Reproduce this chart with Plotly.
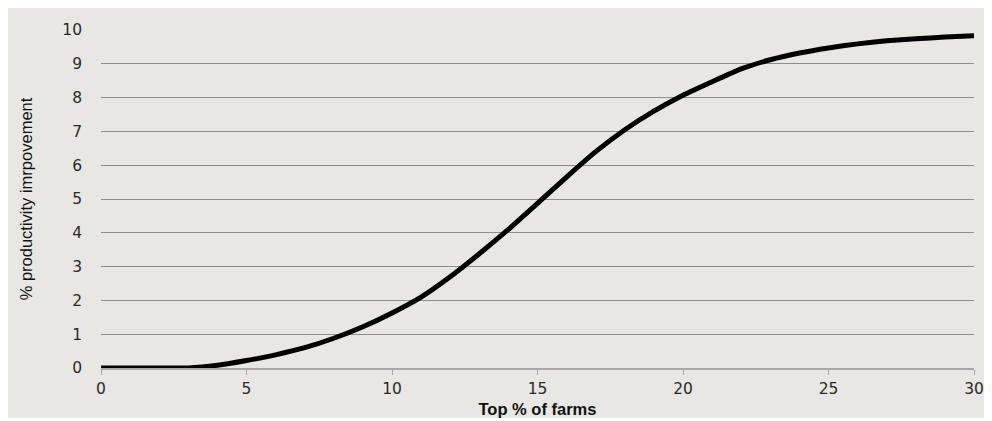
import plotly.graph_objects as go

top_pct_farms = list(range(0, 31))
productivity_improvement = [
    0.0, 0.0, 0.0, 0.0, 0.08, 0.22, 0.39, 0.6, 0.88, 1.22,
    1.63, 2.1, 2.7, 3.38, 4.1, 4.87, 5.65, 6.4, 7.05, 7.6,
    8.07, 8.47, 8.85, 9.12, 9.32, 9.47, 9.59, 9.68, 9.74, 9.79, 9.83,
]
x_ticks = [0, 5, 10, 15, 20, 25, 30]
y_ticks = list(range(0, 11))

# page has an 8px body margin; figure placed at (8, 8)
W, H = 984, 410
L, R, T, B = 93, 18, 22, 50

fig = go.Figure()
fig.add_trace(go.Scatter(
    x=top_pct_farms, y=productivity_improvement, mode="lines",
    line=dict(color="#000000", width=5, shape="spline", smoothing=0.5),
    cliponaxis=False, hoverinfo="x+y", showlegend=False,
))

bg = "#e8e7e3"
tick_font = dict(family="DejaVu Sans, Liberation Sans, Arial", size=15.5, color="#2a2a2a")
fig.update_layout(
    width=W, height=H,
    margin=dict(l=L, r=R, t=T, b=B, autoexpand=False),
    paper_bgcolor=bg, plot_bgcolor=bg,
    xaxis=dict(
        range=[0, 30], tickvals=x_ticks, showgrid=False, zeroline=False,
        showline=True, linecolor="#a8a8a8", linewidth=1.5,
        ticks="outside", ticklen=5, tickcolor="#a8a8a8", tickwidth=1,
        tickfont=tick_font, ticklabelstandoff=1,
        title=dict(text="<b>Top % of farms</b>", standoff=9,
                   font=dict(family="Liberation Sans, Arial", size=16.5, color="#111")),
    ),
    yaxis=dict(
        range=[0, 10], tickvals=y_ticks, showgrid=True, gridcolor="#8e8e8e", gridwidth=1,
        zeroline=False, showline=False, ticks="", tickfont=tick_font,
        ticklabelstandoff=18,
        title=dict(text="% productivity imrpovement", standoff=25,
                   font=dict(family="Liberation Sans, Arial", size=16.5, color="#111")),
    ),
)

fig.write_html("out.html")
